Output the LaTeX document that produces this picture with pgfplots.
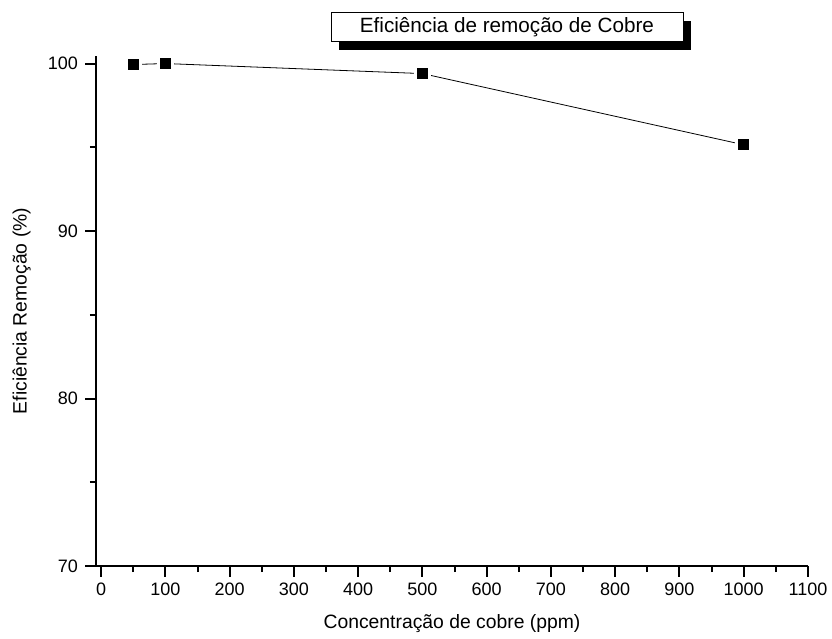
\documentclass[border=0pt]{standalone}
\usepackage{pgfplots}
\pgfplotsset{compat=1.18}
\usepackage{fontspec}
\setmainfont{Liberation Sans}
\begin{document}
\begin{tikzpicture}
\path[use as bounding box] (-72pt,-54.75pt) rectangle (552pt,424.5pt);
\begin{axis}[
  at={(0pt,0pt)}, anchor=south west,
  scale only axis, width=534pt, height=382.5pt,
  xmin=-8, xmax=1100, ymin=70, ymax=100.45,
  axis x line=bottom, axis y line=left,
  axis line style={-, line width=1.5pt},
  tick align=outside,
  major tick length=8pt, minor tick length=4.5pt,
  every tick/.style={line width=1.5pt, black},
  xtick={0,100,...,1100}, minor xtick={50,150,...,1050},
  ytick={70,80,90,100}, minor ytick={75,85,95},
  /pgf/number format/assume math mode=true,
  /pgf/number format/1000 sep={},
  tick label style={font=\fontsize{13.5}{16}\selectfont},
  xticklabel style={yshift=-1.5pt},
  yticklabel style={xshift=-2pt},
  label style={font=\fontsize{14.5}{17}\selectfont},
  xlabel={Concentração de cobre (ppm)},
  ylabel={Eficiência Remoção (\%)},
  xlabel style={yshift=-7pt},
  ylabel style={yshift=6pt},
  clip=false,
]
\addplot[black, line width=0.6pt, mark=square*,
  mark options={fill=black, draw=white, line width=2.4pt, mark size=5.3pt}]
  coordinates {(50,99.94) (100,100.0) (500,99.4) (1000,95.15)};
\draw[line width=1.5pt] (axis cs:-25,70) -- (axis cs:-7,70);
\end{axis}
\fill[black] (182.25pt,387pt) rectangle (446.25pt,408.75pt);
\draw[line width=0.75pt, fill=white] (176.25pt,393pt) rectangle (440.25pt,414.75pt);
\node[font=\fontsize{15.5}{18}\selectfont] at (308.25pt,403.9pt) {Eficiência de remoção de Cobre};
\end{tikzpicture}
\end{document}
